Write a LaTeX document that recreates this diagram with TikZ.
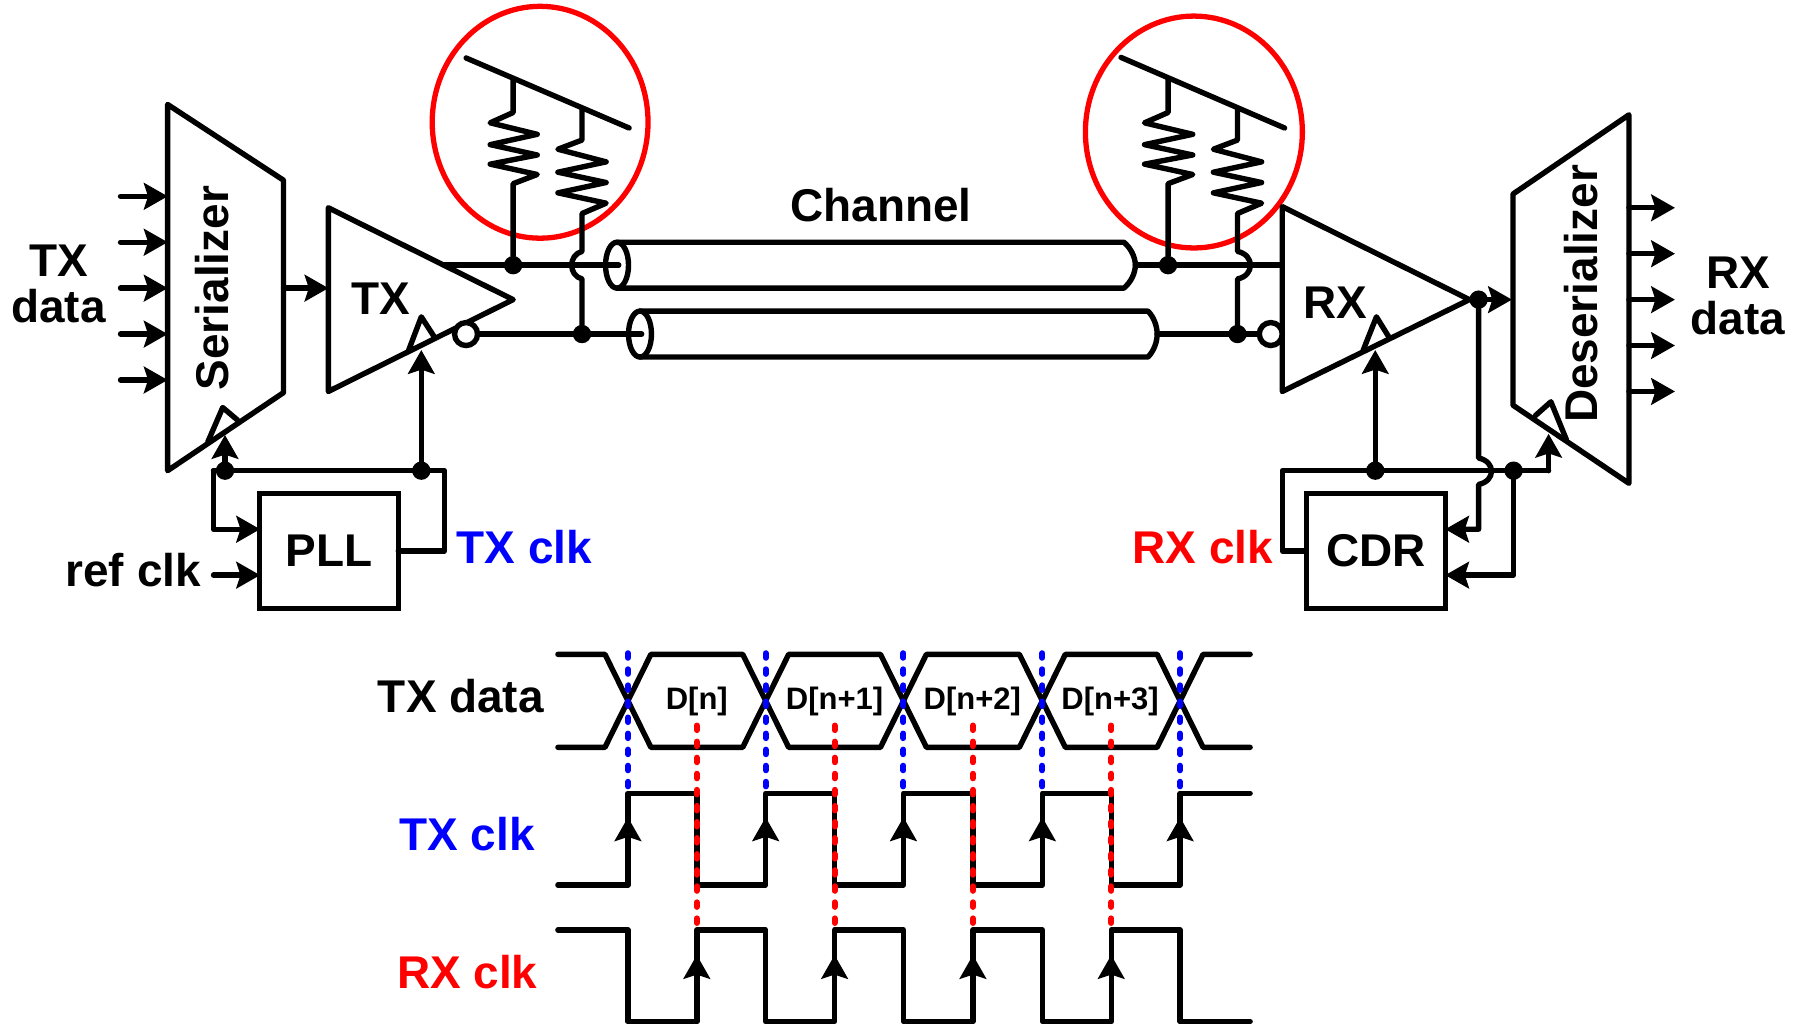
\documentclass[tikz,border=0pt]{standalone}
\usepackage{fontspec}
\setmainfont{Liberation Sans}
\usetikzlibrary{arrows.meta}
\definecolor{pureblue}{RGB}{0,0,255}
\definecolor{purered}{RGB}{255,0,0}
\tikzset{
  wire/.style={line width=2.35pt,line cap=round,line join=round,draw=black},
  arr/.style={wire,-{Stealth[length=10.5pt,width=12pt,inset=2pt,line width=0pt]}},
  dotn/.style={circle,fill=black,inner sep=0pt,minimum size=8pt,outer sep=0pt},
  bubble/.style={circle,draw=black,line width=2.35pt,fill=white,inner sep=0pt,minimum size=10pt,outer sep=0pt},
  block/.style={draw=black,line width=2.35pt,inner sep=0pt,outer sep=0pt,font=\fontsize{20}{24}\selectfont\bfseries},
  lab/.style={inner sep=0pt,outer sep=0pt,align=center,font=\fontsize{20}{22}\selectfont\bfseries},
  dlab/.style={inner sep=0pt,outer sep=0pt,font=\fontsize{13.5}{16}\selectfont\bfseries},
  ring/.style={draw=purered,line width=2.3pt},
  bdash/.style={line width=2.6pt,draw=pureblue,line cap=round,dash pattern=on 2pt off 5pt},
  rdash/.style={line width=2.6pt,draw=purered,line cap=round,dash pattern=on 2pt off 5pt},
}
\begin{document}
\begin{tikzpicture}[x=0.5pt,y=-0.5pt]
\useasboundingbox[fill=white] (0,0) rectangle (1568,893.76);

% red rings
\draw[ring] (470.5,106.5) ellipse [x radius=94,y radius=101];
\draw[ring] (1040,115) ellipse [x radius=94.5,y radius=101];

% ---------- Serializer
\draw[wire] (146,91) -- (247,157) -- (247,342) -- (146,410) -- cycle;
\node[lab,rotate=90] (sertext) at (184.5,251) {Serializer};
\draw[wire] (181,385) -- (194,355) -- (207,366);
\foreach \i/\y in {1/171,2/211,3/251,4/291,5/331}{
  \coordinate (si\i) at (105,\y);
  \coordinate (sp\i) at (146,\y);
  \draw[arr] (si\i) -- (sp\i);
}
\node[lab] (txdata) at (51,247.5) {TX\\[-2pt]data};

% ---------- TX driver
\draw[wire] (286,181) -- (447,261) -- (286,341) -- cycle;
\node[lab] (txtext) at (332,260) {TX};
\draw[wire] (356,305) -- (367,276) -- (378,293);
\coordinate (serout) at (247,251);
\coordinate (txin) at (286,251);
\draw[arr] (serout) -- (txin);
\coordinate (txclkpin) at (367,305);
\coordinate (txp) at (387,231);
\node[bubble] (txbub) at (406,291) {};

% ---------- tubes
\coordinate (t1l) at (539,231);
\coordinate (t1r) at (989,231);
\coordinate (t2l) at (559,291);
\coordinate (t2r) at (1008,291);
\node[dotn] (d1) at (447,231) {};
\node[dotn] (d2) at (507,291) {};
\node[dotn] (d3) at (1017.5,231) {};
\node[dotn] (d4) at (1078,291) {};
\draw[wire] (txp) -- (t1l);
\draw[wire] (txbub) -- (t2l);
\draw[wire] (537.5,211) -- (979,211) .. controls (985,216) and (989,224) .. (t1r) .. controls (989,238) and (985,246) .. (979,251) -- (537.5,251);
\draw[wire] (537.5,231) ellipse [x radius=10,y radius=20];
\draw[wire] (557.5,271) -- (1000,271) .. controls (1005,276) and (1008,284) .. (t2r) .. controls (1008,298) and (1005,306) .. (1000,311) -- (557.5,311);
\draw[wire] (557.5,291) ellipse [x radius=10,y radius=20];
\node[lab] (channel) at (767.5,179) {Channel};

% ---------- TX termination
\coordinate (railAa) at (406,50.5);
\coordinate (railAb) at (548,111.5);
\draw[wire] (railAa) -- (railAb);
\coordinate (a1top) at (447,69);
\coordinate (a2top) at (507,95);
\draw[wire] (a1top) -- (447,98) -- (427,107) -- (468,117) -- (427,126) -- (468,135) -- (427,143) -- (468,152) -- (447,160) -- (d1);
\draw[wire] (a2top) -- (507,122) -- (486,130) -- (528,141) -- (486,150) -- (528,159) -- (486,168) -- (528,177) -- (507,186) -- (507,219)
  .. controls (495,222) and (495,240) .. (507,243) -- (d2);

% ---------- RX termination
\coordinate (railBa) at (976.5,50);
\coordinate (railBb) at (1119,111.5);
\draw[wire] (railBa) -- (railBb);
\coordinate (b1top) at (1017.5,69);
\coordinate (b2top) at (1078,95);
\draw[wire] (b1top) -- (1017.5,98) -- (997,107) -- (1039,117) -- (997,126) -- (1039,135) -- (997,143) -- (1039,152) -- (1017.5,160) -- (d3);
\draw[wire] (b2top) -- (1078,122) -- (1057,130) -- (1099,141) -- (1057,150) -- (1099,159) -- (1057,168) -- (1099,177) -- (1078,186) -- (1078,219)
  .. controls (1093,222) and (1093,240) .. (1078,243) -- (d4);

% ---------- RX
\draw[wire] (1117,180) -- (1280,261) -- (1117,341) -- cycle;
\node[lab] (rxtext) at (1163,264) {RX};
\draw[wire] (1187.5,305) -- (1199,276) -- (1209.5,293);
\coordinate (rxp) at (1117,231);
\draw[wire] (t1r) -- (rxp);
\node[bubble] (rxbub) at (1107,291) {};
\draw[wire] (t2r) -- (rxbub);
\coordinate (rxclkpin) at (1198,305);

% ---------- Deserializer
\draw[wire] (1318,169) -- (1419,100) -- (1419,421) -- (1318,353) -- cycle;
\node[lab,rotate=90] (destext) at (1377.5,256) {Deserializer};
\draw[wire] (1337.5,362) -- (1351,350) -- (1364.5,383);
\foreach \i/\y in {1/181,2/221,3/261,4/301,5/341}{
  \coordinate (dp\i) at (1419,\y);
  \coordinate (do\i) at (1459,\y);
  \draw[arr] (dp\i) -- (do\i);
}
\node[lab] (rxdata) at (1514,257.5) {RX\\[-2pt]data};

% ---------- PLL
\node[block,minimum width=60.5pt,minimum height=50pt] (pll) at (286.5,480) {PLL};
\coordinate (pllfb) at (226.5,461);
\coordinate (pllref) at (226.5,501);
\coordinate (pllout) at (347,480);
\node[dotn] (c1) at (196,410) {};
\node[dotn] (c2) at (367,410) {};
\coordinate (serclk) at (196,379);
\draw[wire] (pllout) -- (387,480) -- (387,410) -- (186,410);
\draw[arr] (186,410) -- (186,461) -- (pllfb);
\draw[arr] (c1) -- (serclk);
\draw[arr] (c2) -- (txclkpin);
\coordinate (refin) at (186,501);
\draw[arr] (refin) -- (pllref);
\node[lab,anchor=east] (refclk) at (175,497) {ref clk};
\node[lab,anchor=west,text=pureblue] (txclk) at (398,477) {TX clk};

% ---------- CDR
\node[block,minimum width=60.5pt,minimum height=50pt] (cdr) at (1198.5,480) {CDR};
\coordinate (cdrin1) at (1259,461);
\coordinate (cdrin2) at (1259,501);
\coordinate (cdrout) at (1138,480);
\node[dotn] (e1) at (1198,410) {};
\node[dotn] (e2) at (1318.5,410) {};
\node[dotn] (rxo) at (1288,261) {};
\coordinate (desin) at (1317,261);
\coordinate (desclk) at (1349,378);
\draw[arr] (rxo) -- (desin);
\draw[wire] (cdrout) -- (1117,480) -- (1117,410) -- (1349,410);
\draw[arr] (1349,410) -- (desclk);
\draw[arr] (e1) -- (rxclkpin);
\draw[arr] (rxo) -- (1288,399) .. controls (1303,402) and (1303,419) .. (1288,422) -- (1288,461) -- (cdrin1);
\draw[arr] (e2) -- (1318.5,501) -- (cdrin2);
\node[lab,anchor=east,text=purered] (rxclk) at (1109,477) {RX clk};

% ---------- timing diagram
\node[lab] (ttxd) at (401.5,606.5) {TX data};
\node[lab,text=pureblue] (ttxc) at (407,727) {TX clk};
\node[lab,text=purered] (trxc) at (407,847) {RX clk};
\node[dlab] (d0) at (607,611) {D[n]};
\node[dlab] (d1t) at (727,611) {D[n+1]};
\node[dlab] (d2t) at (847,611) {D[n+2]};
\node[dlab] (d3t) at (967,611) {D[n+3]};

\draw[wire] (486,570) -- (527,570) -- (567,651) -- (647,651) -- (687,570) -- (767,570) -- (807,651) -- (888,651) -- (928,570) -- (1008,570) -- (1048,651) -- (1089,651);
\draw[wire] (486,651) -- (527,651) -- (567,570) -- (647,570) -- (687,651) -- (767,651) -- (807,570) -- (888,570) -- (928,651) -- (1008,651) -- (1048,570) -- (1089,570);

\draw[wire] (486,771) -- (547,771) -- (547,691) -- (607,691) -- (607,771) -- (667,771) -- (667,691) -- (727,691) -- (727,771) -- (787,771) -- (787,691) -- (847.5,691) -- (847.5,771) -- (908,771) -- (908,691) -- (968,691) -- (968,771) -- (1028,771) -- (1028,691) -- (1089,691);
\draw[wire] (486,810) -- (547,810) -- (547,890) -- (607,890) -- (607,810) -- (667,810) -- (667,890) -- (727,890) -- (727,810) -- (787,810) -- (787,890) -- (847.5,890) -- (847.5,810) -- (908,810) -- (908,890) -- (968,890) -- (968,810) -- (1028,810) -- (1028,890) -- (1089,890);

\foreach \x in {547,667,787,908,1028}{
  \draw[arr] (\x,740) -- (\x,712);
  \draw[bdash] (\x,569) -- (\x,692);
}
\foreach \x in {607,727,847.5,968}{
  \draw[arr] (\x,860) -- (\x,832);
  \draw[rdash] (\x,632) -- (\x,811);
}
\end{tikzpicture}
\end{document}
